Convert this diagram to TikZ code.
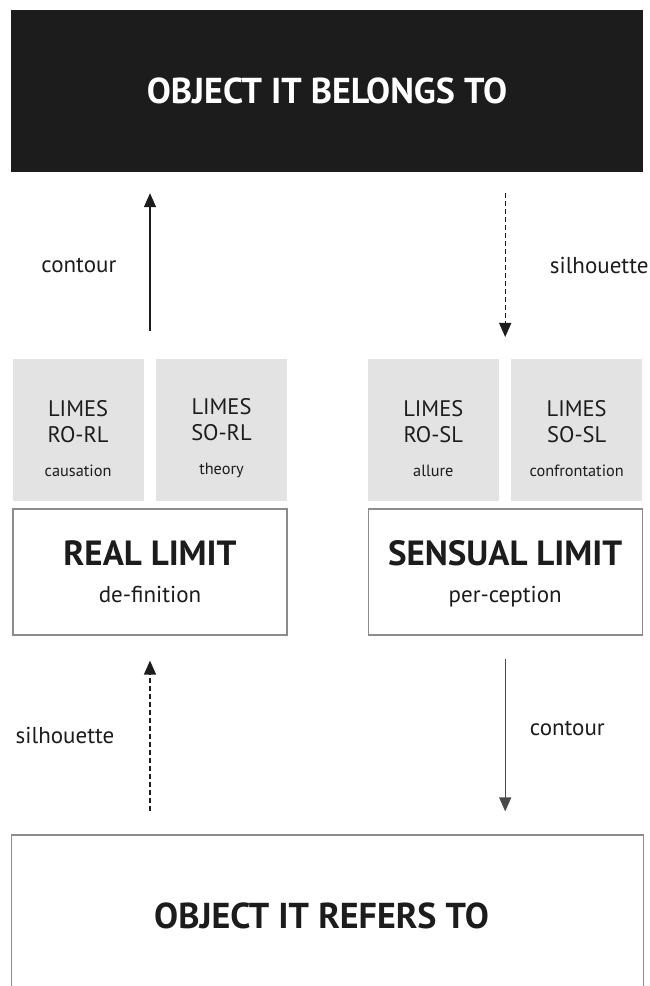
\documentclass[tikz,border=0pt]{standalone}
\usepackage{fontspec}
\setmainfont{PT Sans}
\usetikzlibrary{positioning, arrows.meta}

\definecolor{boxgrey}{HTML}{E3E3E3}
\definecolor{edgegrey}{HTML}{8C8C8C}
\definecolor{ink}{HTML}{1C1C1C}

\tikzset{
    limes/.style={fill=boxgrey, minimum width=131pt, minimum height=142pt, inner sep=0pt},
    limesword/.style={align=center, text=ink, inner sep=0pt, yshift=-8pt,
        font=\fontsize{22.5}{26}\selectfont},
    limit/.style={draw=edgegrey, line width=1.2pt, minimum width=274pt, minimum height=126pt,
        align=center, text=ink, text depth=0pt, font=\fontsize{23}{37}\selectfont},
    object/.style={minimum width=632pt, minimum height=162pt, inner sep=0pt,
        font=\bfseries\fontsize{36}{40}\selectfont},
    flow/.style={-{Triangle[width=12pt,length=14pt]}, line width=1.4pt, draw=ink},
    tag/.style={font=\fontsize{23}{26}\selectfont, text=ink, inner sep=0pt},
}

\newcommand{\limestext}[2]{LIMES\\#1\\[8pt]{\fontsize{16.3}{18}\selectfont #2}}
\newcommand{\limittext}[2]{{\bfseries\fontsize{35}{37}\selectfont #1}\\#2}

\begin{document}
\begin{tikzpicture}[x=1pt, y=1pt]
    \useasboundingbox (0,0) rectangle (649,986);

    \node[object, fill=ink, text=white] (belongs) at (327,895) {OBJECT IT BELONGS TO};
    \node[object, draw=edgegrey, line width=1.2pt, text=ink] (refers) at (327.5,70)
        {OBJECT IT REFERS TO\hspace*{12pt}};

    \node[limit] (real) at (150,414) {\limittext{REAL LIMIT}{de-finition}};
    \node[limit, right=80pt of real] (sensual) {\limittext{SENSUAL LIMIT}{per-ception}};

    \node[limes, above right=7pt and 0pt of real.north west,
        label={[limesword]center:\limestext{RO-RL}{causation}}] (rorl) {};
    \node[limes, right=12pt of rorl,
        label={[limesword]center:\limestext{SO-RL}{theory}}] (sorl) {};
    \node[limes, above right=7pt and 0pt of sensual.north west,
        label={[limesword]center:\limestext{RO-SL}{allure}}] (rosl) {};
    \node[limes, right=12pt of rosl,
        label={[limesword]center:\limestext{SO-SL}{confrontation}}] (sosl) {};

    % upper pair
    \draw[flow, shorten <=28pt, shorten >=21pt]
        (real.north |- rorl.north) -- (real.north |- belongs.south)
        node[tag, midway, left=33pt] (contourup) {contour};
    \draw[flow, dash pattern=on 5pt off 3pt, shorten <=21pt, shorten >=22pt]
        (sensual.north |- belongs.south) -- (sensual.north |- rosl.north)
        node[tag, midway, right=44pt] (silhouetteup) {silhouette};

    % lower pair
    \draw[flow, dash pattern=on 5pt off 3pt, shorten <=23pt, shorten >=25pt]
        (real.south |- refers.north) -- (real.south)
        node[tag, midway, left=35pt] (silhouettedown) {silhouette};
    \draw[flow, draw=ink!80, shorten <=23pt, shorten >=23pt]
        (sensual.south) -- (sensual.south |- refers.north)
        node[tag, midway, yshift=7pt, right=24pt] (contourdown) {contour};
\end{tikzpicture}
\end{document}
